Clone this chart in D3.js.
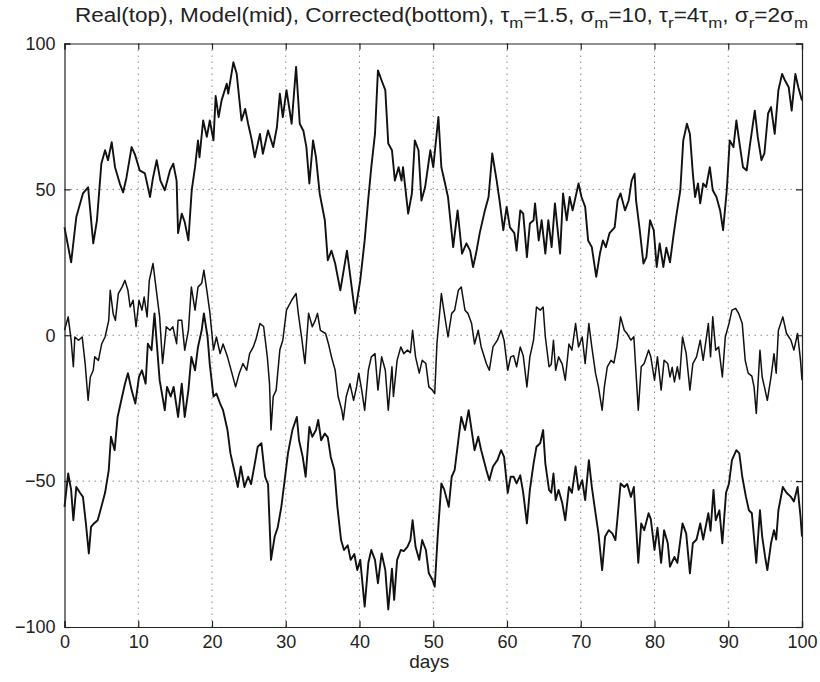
<!DOCTYPE html>
<html><head><meta charset="utf-8">
<script src="https://cdn.jsdelivr.net/npm/d3@7"></script>
<style>
html,body{margin:0;padding:0;background:#fff;}
svg{display:block;font-family:"Liberation Sans",Arial,Helvetica,sans-serif;}
</style></head>
<body>
<svg id="chart" width="820" height="682"></svg>
<script>
// ---- data ----
const xTicks = [0,10,20,30,40,50,60,70,80,90,100];
const yTicks = [-100,-50,0,50,100];
const xLabel = "days";

const real = [[0,37],[0.9,25],[1.6,40.5],[2.5,48.6],[3.2,50.7],[3.9,31.5],[4.4,39.4],[5.0,58.9],[5.5,63.4],[5.9,60],[6.4,66.2],[6.85,57.6],[7.5,52],[7.95,49],[8.4,54],[9.1,64.5],[9.55,62],[10.2,56.5],[10.9,55.5],[11.6,47.4],[12.0,54],[12.5,60],[13.0,53],[13.6,49.7],[14.3,56.5],[14.75,58.8],[15.2,53],[15.4,35],[15.9,41.7],[16.3,38.8],[16.8,32.5],[17.25,49.7],[17.7,57.6],[18.1,66.8],[18.3,61],[18.8,73.6],[19.3,68],[19.7,73.6],[20.2,66.8],[20.5,82],[20.9,74.8],[21.3,80.5],[22.0,86.2],[22.2,82.8],[22.9,93.6],[23.35,89.6],[24.0,73.6],[24.5,77.6],[24.9,72.5],[25.4,66.8],[25.8,61],[26.5,69],[26.9,62.2],[27.6,70.2],[28.3,64.5],[28.8,71.3],[29.2,82.8],[29.6,74.8],[30.1,84],[30.8,72.5],[31.4,92],[31.9,72.5],[32.4,70],[32.8,64.5],[33.2,52],[33.7,66.8],[34.1,61],[34.6,48.6],[35.3,39.4],[35.7,25.7],[36.2,29],[36.7,24.6],[37.4,15.4],[38.3,29],[38.7,21.2],[39.4,7.5],[40.1,18.8],[40.7,32.5],[41.2,47],[41.6,57.6],[42.1,69],[42.5,90.8],[43.0,87.3],[43.5,84],[43.9,65.7],[44.4,63.4],[44.8,53],[45.3,57.6],[45.7,53],[45.9,57.6],[46.6,41.7],[47.1,48.6],[47.5,66.8],[48.0,63.4],[48.4,46.2],[48.9,50.8],[49.6,63.4],[50.0,57.6],[50.7,74.8],[51.1,57.6],[51.6,52],[52.0,47.4],[52.7,30.2],[53.3,42.8],[53.9,28],[54.5,31.5],[55.0,29],[55.4,23.4],[55.8,28],[56.3,35],[57.0,42.8],[57.5,47.4],[58.0,62.3],[58.6,53],[59.0,46],[59.5,36],[59.95,44],[60.4,37],[61.0,35],[61.3,29],[61.8,42.8],[62.2,41.7],[62.7,26.8],[63.1,38.3],[63.6,39.4],[63.8,45.2],[64.3,32.5],[64.7,39.4],[65.2,28],[65.6,39.4],[66.05,30.2],[66.5,45.2],[67.2,28],[67.6,48.6],[68.1,39.4],[68.5,47.4],[68.9,42.8],[69.7,52],[70.1,47.4],[70.6,44],[71.0,32.5],[71.5,30.2],[72.1,20],[72.6,28],[73.0,32.5],[73.4,30.2],[73.9,35],[74.6,37],[75.0,46.2],[75.4,48.6],[76.0,42.8],[76.5,46.2],[76.9,53],[77.3,55.4],[77.5,46.2],[78.0,36],[78.5,24.6],[78.9,26.8],[79.4,39.4],[79.9,36],[80.3,23.4],[80.7,31.5],[81.2,23.4],[81.6,30],[82.1,25],[82.55,33.7],[83.0,41.7],[83.5,49.7],[83.9,66.8],[84.4,72.5],[84.8,69],[85.2,55.4],[85.5,47.4],[85.9,52],[86.2,45.2],[86.6,52],[87.0,50.8],[87.5,57.6],[87.9,49.7],[88.4,47.4],[88.9,42.8],[89.3,36],[89.8,49.7],[90.2,66.8],[90.7,64.5],[91.1,73.6],[91.6,64.5],[92.0,57.6],[92.5,56.5],[92.9,64.5],[93.6,77],[94.0,68],[94.5,60],[94.9,62.3],[95.4,76],[95.8,78.2],[96.3,69],[96.8,84],[97.3,89.6],[97.7,87.3],[98.2,85],[98.6,77],[99.1,89.6],[99.5,85],[100,80.5]];

const model = [[0,1.7],[0.5,6.3],[0.9,-1.7],[1.2,-10.8],[1.4,-0.6],[1.9,-1.7],[2.4,-0.6],[2.8,-9.7],[3.2,-22.3],[3.5,-14.3],[3.9,-12],[4.1,-7.4],[4.6,-8.6],[5.05,-2.9],[5.5,-0.6],[6.0,5.1],[6.2,15.4],[6.6,7.4],[6.9,5.1],[7.3,14.3],[7.8,16.5],[8.2,18.8],[8.6,15.4],[8.9,9.7],[9.3,12],[9.7,2.9],[10.1,12],[10.5,8.6],[10.8,13.1],[11.2,6.3],[11.5,18.8],[12.0,24.6],[12.4,16.5],[12.9,6.3],[13.3,-9.7],[13.8,2.9],[14.3,1.7],[14.7,2.9],[15.2,-2.9],[15.4,5.1],[15.9,5.1],[16.3,-5.1],[16.8,1.7],[17.2,16.5],[17.7,8.6],[18.1,16.5],[18.6,17.8],[18.9,22.3],[19.3,15.4],[19.7,8],[20.2,-5],[20.6,-0.6],[21.1,-6.3],[21.5,-3],[22.1,-7.4],[22.7,-13],[23.2,-17.7],[23.7,-13],[24.2,-9.7],[24.7,-12],[25.1,-6.3],[25.6,-4],[26.0,-1],[26.5,4],[27.0,3],[27.5,-7.4],[27.8,-16.6],[28.0,-32.5],[28.3,-21],[28.7,-18.8],[29.2,-5],[29.6,-1.7],[30.1,8.6],[30.8,12],[31.4,14.3],[31.7,7.5],[32.2,-1.7],[32.6,-9.7],[33.1,7.5],[33.6,2.9],[34.0,5.1],[34.3,7.5],[34.7,1.7],[35.4,0.6],[35.8,-3],[36.2,-7.4],[36.7,-12],[37.1,-21],[37.6,-25.7],[37.8,-29],[38.2,-21],[38.7,-16.6],[39.2,-22.3],[39.6,-17.7],[39.9,-13],[40.3,-18.8],[40.7,-25.7],[41.2,-12],[41.6,-7.4],[42.1,-6.3],[42.5,-18.8],[43.0,-7.4],[43.5,-12],[43.9,-25.7],[44.4,-10.8],[44.6,-21],[45.1,-8.6],[45.6,-4],[46.0,-6.3],[46.5,-5.1],[46.9,-6],[47.2,1.7],[47.6,-7.4],[48.1,-13],[48.5,-8.6],[49.0,-9.7],[49.4,-17.7],[49.9,-18.8],[50.2,-20],[50.5,-2.9],[51.1,14.3],[51.5,7.5],[52.0,-0.6],[52.5,7.5],[52.9,8.6],[53.4,15.4],[53.8,16.5],[54.3,8.6],[54.7,7.5],[55.2,4],[55.6,-3],[56.1,1.7],[56.5,-4],[57.2,-9.7],[57.6,-12],[58.1,-4],[58.7,-1.7],[59.2,1.7],[59.6,-1.7],[60.1,-12],[60.5,-7.4],[60.9,-7],[61.3,-10.8],[61.8,-4],[62.2,-7],[62.7,-17.7],[63.1,-7.4],[63.6,-1.7],[64.0,9.7],[64.5,8.6],[64.9,9.7],[65.2,-0.6],[65.7,-10.8],[66.0,-10],[66.3,-1.7],[66.6,-12],[67.0,-7.4],[67.5,-10],[67.9,-15.4],[68.4,-3],[68.8,-5.1],[69.3,4],[69.7,-4],[70.2,-0.6],[70.6,-9.7],[71.1,4],[71.5,-4],[72.0,-13],[72.4,-17.7],[72.9,-25.7],[73.2,-17.7],[73.6,-10.8],[74.1,-8.6],[74.5,-9.5],[74.9,-4],[75.4,6.3],[75.9,1.7],[76.3,0.5],[76.8,-1.7],[77.2,-0.5],[77.8,-25.7],[78.2,-10.8],[78.6,-9.7],[79.2,-5.1],[79.5,-7.4],[80.0,-15.4],[80.4,-7.4],[80.9,-18.8],[81.3,-8.6],[81.8,-9.7],[82.1,-14.3],[82.4,-11],[82.7,-16],[83.1,-10.8],[83.4,-15],[83.8,-0.6],[84.3,-6.3],[84.8,-18.8],[85.2,-9.7],[85.7,-7.4],[86.2,-1.7],[86.6,-8.6],[87.3,4],[87.6,-7.4],[87.9,6.3],[88.3,-5.1],[88.7,-4],[89.2,-14.3],[89.6,-0.6],[90.1,4],[90.5,8.6],[91.0,9.2],[91.4,7.5],[91.9,4],[92.3,-8.6],[92.7,-13],[93.2,-14],[93.5,-17.7],[93.8,-26.8],[94.3,-5.1],[94.6,-14.3],[95.0,-18.8],[95.3,-22.3],[95.8,-14.3],[96.2,-6.3],[96.5,-13],[96.8,1.7],[97.4,6.3],[97.9,0.6],[98.5,-1.7],[98.9,-5.1],[99.4,0.6],[99.8,-8.6],[100,-15.4]];

const corrected = [[0,-58.8],[0.5,-47.4],[0.9,-53],[1.2,-63.4],[1.6,-52],[2.1,-54],[2.5,-55.4],[2.9,-64.5],[3.3,-74.8],[3.6,-65.7],[4.0,-64.5],[4.5,-63.4],[5.0,-58.8],[5.5,-54],[6.0,-46.2],[6.3,-34.8],[6.8,-39.4],[7.2,-28],[7.7,-22.3],[8.2,-16.6],[8.6,-13],[9.1,-18.8],[9.6,-23.4],[10.1,-14.3],[10.5,-12],[11.0,-16.6],[11.3,-2.9],[11.8,-5.1],[12.2,7.5],[12.9,-15.4],[13.6,-25.7],[13.9,-17.7],[14.4,-21],[14.8,-17.7],[15.4,-28],[15.9,-16.6],[16.3,-28],[16.8,-18.8],[17.2,-7.4],[17.7,-12],[18.1,-4],[18.6,1.7],[18.9,7.5],[19.4,-0.6],[19.7,-10],[20.2,-21],[20.6,-20],[21.1,-23.4],[21.5,-25.7],[22.1,-32.5],[22.5,-40.5],[23.0,-46.2],[23.5,-52],[23.9,-45],[24.4,-52],[24.9,-48.5],[25.3,-51],[25.8,-44],[26.2,-38.2],[26.7,-37],[27.2,-48.5],[27.6,-51],[28.0,-77],[28.5,-69],[28.9,-66],[29.4,-58.8],[29.8,-50.8],[30.3,-40.5],[30.9,-32.5],[31.5,-28],[31.8,-36],[32.3,-41.7],[32.7,-48.5],[33.2,-31.4],[33.6,-34.8],[34.1,-32.5],[34.4,-29],[34.8,-36],[35.3,-33.7],[35.7,-35],[36.1,-41.7],[36.6,-46.2],[37.0,-58.8],[37.5,-70.2],[37.9,-73.6],[38.4,-72],[38.8,-77],[39.3,-75],[39.7,-80.5],[40.1,-77],[40.7,-93],[41.2,-78],[41.6,-73.6],[42.1,-77],[42.5,-85],[43.0,-74.8],[43.5,-80.5],[43.9,-94],[44.4,-80],[44.7,-90.7],[45.1,-77],[45.6,-73.6],[46.0,-74],[46.5,-72.5],[46.9,-70.2],[47.2,-63.4],[47.6,-72.5],[48.1,-77],[48.5,-70.2],[49.0,-73.6],[49.4,-81.6],[49.9,-83.9],[50.2,-86.2],[50.6,-69],[51.1,-50.8],[51.5,-53],[52.1,-58.8],[52.5,-48.5],[52.9,-46.2],[53.4,-36],[53.8,-28],[54.3,-32.5],[54.8,-25.7],[55.2,-32.5],[55.6,-39.4],[56.1,-34.8],[56.5,-39.4],[57.2,-46.2],[57.6,-49.7],[58.1,-45],[58.7,-42.8],[59.2,-39.4],[59.6,-41.7],[60.1,-54],[60.5,-48.5],[60.9,-48.5],[61.3,-50.8],[61.8,-48],[62.2,-54],[62.7,-64.5],[63.1,-53],[63.6,-44],[64.0,-38.2],[64.5,-37],[64.9,-32.5],[65.2,-44],[65.7,-53],[66.0,-54],[66.3,-47.4],[66.6,-56.5],[67.0,-53],[67.5,-57.6],[67.9,-63.4],[68.4,-52],[68.8,-54],[69.3,-45],[69.7,-53],[70.2,-49.7],[70.6,-56.5],[71.1,-42.8],[71.5,-52],[72.0,-61],[72.4,-67.9],[72.9,-80.5],[73.3,-69],[73.8,-66.8],[74.3,-68],[74.7,-70.2],[75.0,-62.2],[75.4,-50.8],[75.9,-52],[76.3,-51],[76.8,-55.4],[77.2,-52],[77.8,-78],[78.2,-64.5],[78.6,-66.8],[79.2,-61],[79.5,-63],[80.0,-73.6],[80.4,-66],[80.9,-78],[81.3,-66.8],[81.8,-71.3],[82.1,-79.3],[82.7,-76],[83.1,-78],[83.8,-64.5],[84.3,-68],[84.8,-81.6],[85.2,-71.3],[85.7,-70],[86.2,-64.5],[86.6,-70],[87.3,-61],[87.6,-67],[88.0,-53],[88.3,-63.4],[88.8,-60],[89.2,-71.3],[89.7,-54],[90.1,-50.8],[90.5,-42.8],[91.1,-39.4],[91.5,-40.5],[91.9,-48.5],[92.4,-55.4],[92.8,-60],[93.2,-61],[93.8,-78],[94.3,-60],[94.6,-69],[95.0,-76],[95.3,-80.5],[95.8,-71.3],[96.2,-66.8],[96.5,-70],[96.8,-60],[97.4,-52],[97.9,-54],[98.5,-55.4],[98.9,-57],[99.4,-52],[99.8,-62.2],[100,-69]];

// ---- drawing ----
const svg = d3.select("#chart");
const L = 64.5, R = 802, T = 43.5, B = 627;
const x = d3.scaleLinear().domain([0,100]).range([L,R]);
const y = d3.scaleLinear().domain([-100,100]).range([B,T]);

// grid
const grid = svg.append("g").attr("stroke","#8a8a8a").attr("stroke-width",1).attr("stroke-dasharray","1.5,4.5");
grid.selectAll("line.v").data(xTicks.slice(1,-1)).enter().append("line")
  .attr("x1",d=>x(d)).attr("x2",d=>x(d)).attr("y1",T).attr("y2",B);
grid.selectAll("line.h").data(yTicks.slice(1,-1)).enter().append("line")
  .attr("x1",L).attr("x2",R).attr("y1",d=>y(d)).attr("y2",d=>y(d));

// series
const line = d3.line().x(d=>x(d[0])).y(d=>y(d[1]));
const series = [
  {data: real, w: 1.9},
  {data: model, w: 1.5},
  {data: corrected, w: 1.9}
];
svg.append("g").selectAll("path").data(series).enter().append("path")
  .attr("d",d=>line(d.data)).attr("fill","none").attr("stroke","#111")
  .attr("stroke-width",d=>d.w).attr("stroke-linejoin","round");

// axes
const fs = "18px";
const ax = svg.append("g").attr("transform",`translate(0,${B})`)
  .call(d3.axisBottom(x).tickValues(xTicks).tickSize(-6).tickPadding(8).tickFormat(d3.format("d")));
const at = svg.append("g").attr("transform",`translate(0,${T})`)
  .call(d3.axisTop(x).tickValues(xTicks).tickSize(-6).tickFormat(""));
const ay = svg.append("g").attr("transform",`translate(${L},0)`)
  .call(d3.axisLeft(y).tickValues(yTicks).tickSize(-6).tickPadding(9).tickFormat(d=>d<0?"\u2212"+Math.abs(d):d));
const ar = svg.append("g").attr("transform",`translate(${R},0)`)
  .call(d3.axisRight(y).tickValues(yTicks).tickSize(-6).tickFormat(""));
[ax,at,ay,ar].forEach(g=>{
  g.select(".domain").attr("stroke","#222").attr("stroke-width",1.2);
  g.selectAll(".tick line").attr("stroke","#222").attr("stroke-width",1.2);
  g.selectAll(".tick text").attr("fill","#222").style("font-size",fs).style("font-family","'Liberation Sans',Arial,sans-serif");
});

// x label
svg.append("text").attr("x",(L+R)/2 - 4).attr("y",668).attr("text-anchor","middle")
  .style("font-size","19px").attr("fill","#222").text(xLabel);

// title with subscripts
const title = svg.append("text").attr("x",441.5).attr("y",22).attr("text-anchor","middle")
  .style("font-size","20px").attr("fill","#222");
const parts = [
  ["Real(top), Model(mid), Corrected(bottom), \u03C4",0],["m",1],["=1.5, \u03C3",0],["m",1],
  ["=10, \u03C4",0],["r",1],["=4\u03C4",0],["m",1],[", \u03C3",0],["r",1],["=2\u03C3",0],["m",1]
];
parts.forEach(([t,sub],i)=>{
  const prevSub = i>0 ? parts[i-1][1] : 0;
  title.append("tspan").text(t)
    .attr("dy", sub && !prevSub ? 6 : (!sub && prevSub ? -6 : 0))
    .style("font-size", sub ? "15px" : "20px");
});
const tw = title.node().getComputedTextLength();
if (tw < 733) title.attr("textLength",733).attr("lengthAdjust","spacingAndGlyphs");
</script>
</body></html>
